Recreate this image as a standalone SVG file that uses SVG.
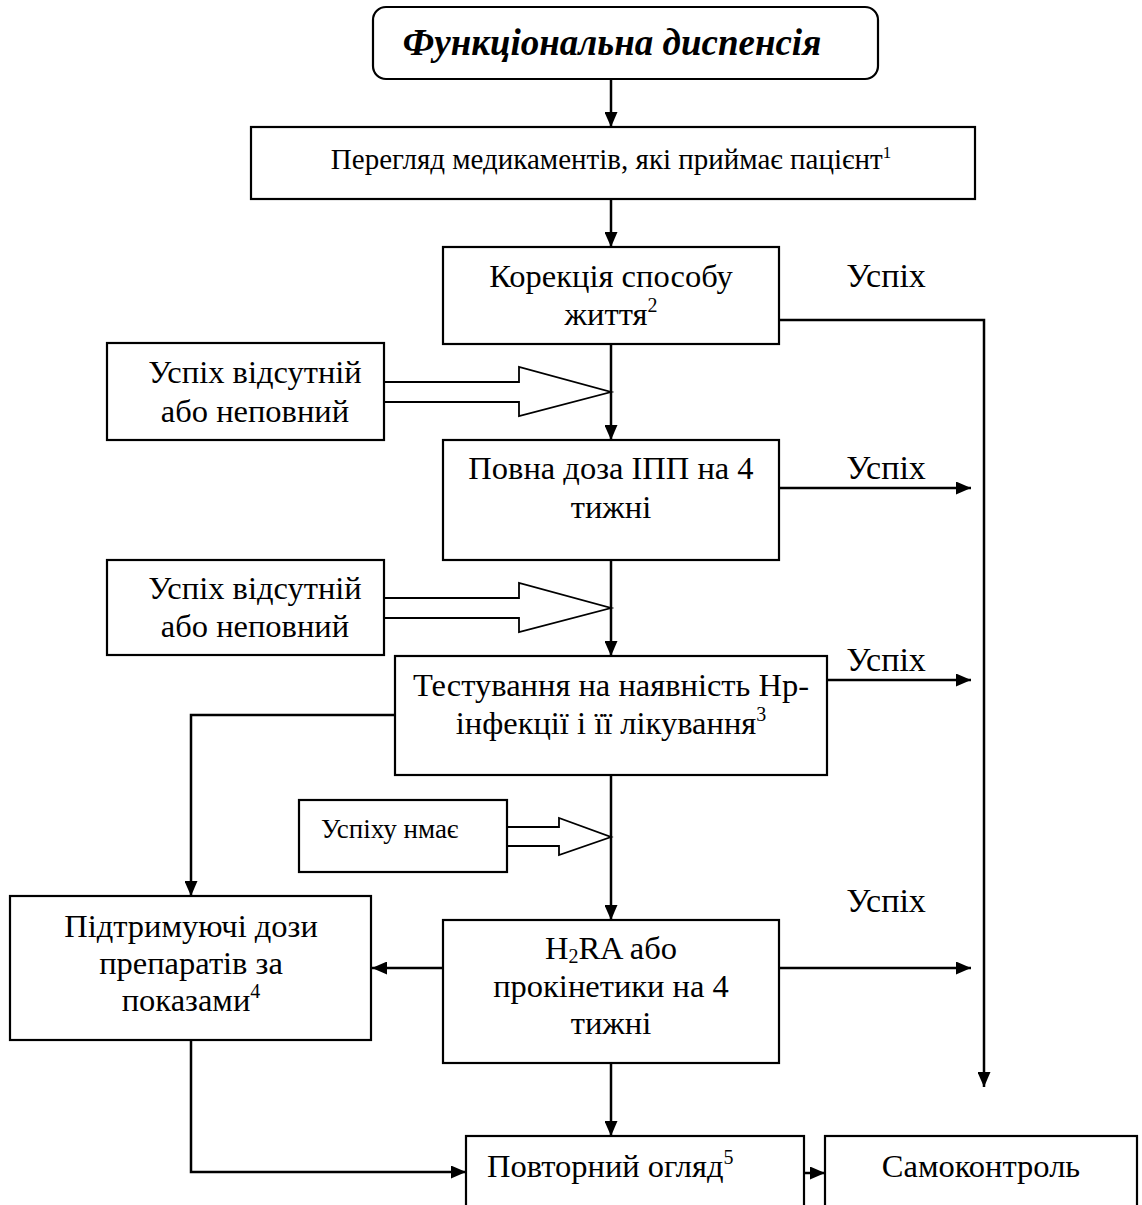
<svg xmlns="http://www.w3.org/2000/svg" width="1142" height="1205" viewBox="0 0 1142 1205">
<defs>
<marker id="ah" markerWidth="15" markerHeight="13" refX="15" refY="6.5" orient="auto" markerUnits="userSpaceOnUse">
<path d="M0,0 L15,6.5 L0,13 Z" fill="#000"/>
</marker>
<style>
.box{fill:#fff;stroke:#000;stroke-width:2.2}
.t{font-family:"Liberation Serif","Times New Roman","DejaVu Serif",serif;font-size:32.5px;fill:#000;text-anchor:middle}
.ts{font-family:"Liberation Serif","Times New Roman","DejaVu Serif",serif;font-size:32.5px;fill:#000;text-anchor:start}
.u{font-family:"Liberation Serif","Times New Roman","DejaVu Serif",serif;font-size:34px;fill:#000;text-anchor:middle}
.s{font-family:"Liberation Serif","Times New Roman","DejaVu Serif",serif;fill:#000}
.ti{font-family:"Liberation Serif","Times New Roman","DejaVu Serif",serif;font-size:37px;font-weight:bold;font-style:italic;fill:#000;text-anchor:middle}
.c{fill:none;stroke:#000;stroke-width:2.5}
.h{fill:#fff;stroke:#000;stroke-width:1.8}
</style>
</defs>
<rect width="1142" height="1205" fill="#fff"/>
<g id="connectors">
<line class="c" x1="611" y1="79" x2="611" y2="127" marker-end="url(#ah)"/>
<line class="c" x1="611" y1="199" x2="611" y2="247" marker-end="url(#ah)"/>
<line class="c" x1="611" y1="344" x2="611" y2="440" marker-end="url(#ah)"/>
<line class="c" x1="611" y1="560" x2="611" y2="656" marker-end="url(#ah)"/>
<line class="c" x1="611" y1="775" x2="611" y2="920" marker-end="url(#ah)"/>
<line class="c" x1="611" y1="1063" x2="611" y2="1136" marker-end="url(#ah)"/>
<polyline class="c" points="779,320 984,320 984,1087" marker-end="url(#ah)"/>
<line class="c" x1="779" y1="488" x2="971" y2="488" marker-end="url(#ah)"/>
<line class="c" x1="827" y1="680" x2="971" y2="680" marker-end="url(#ah)"/>
<line class="c" x1="779" y1="968" x2="971" y2="968" marker-end="url(#ah)"/>
<line class="c" x1="443" y1="968" x2="372" y2="968" marker-end="url(#ah)"/>
<polyline class="c" points="394,715 191,715 191,896" marker-end="url(#ah)"/>
<polyline class="c" points="191,1040 191,1172 466,1172" marker-end="url(#ah)"/>
<line class="c" x1="804" y1="1173" x2="825" y2="1173" marker-end="url(#ah)"/>
<polygon class="h" points="384,382 519,382 519,367 611,392 519,416 519,402 384,402"/>
<polygon class="h" points="384,598 519,598 519,583 611,608 519,632 519,618 384,618"/>
<polygon class="h" points="507,827 559,827 559,818 611,837 559,855 559,846 507,846"/>
</g>
<g id="n-title">
<rect class="box" x="373" y="7" width="505" height="72" rx="13"/>
<text class="ti" x="612" y="55">Функціональна диспенсія</text>
</g>
<g id="n-review">
<rect class="box" x="251" y="127" width="724" height="72"/>
<text class="s" x="611" y="169" font-size="29" text-anchor="middle">Перегляд медикаментів, які приймає пацієнт<tspan font-size="17" dy="-11">1</tspan></text>
</g>
<g id="n-lifestyle">
<rect class="box" x="443" y="247" width="336" height="97"/>
<text class="t" x="611" y="287">Корекція способу</text>
<text class="t" x="611" y="325">життя<tspan font-size="20" dy="-13">2</tspan></text>
</g>
<g id="n-fail1">
<rect class="box" x="107" y="343" width="277" height="97"/>
<text class="t" x="255" y="383">Успіх відсутній</text>
<text class="t" x="255" y="422">або неповний</text>
</g>
<g id="n-ppi">
<rect class="box" x="443" y="440" width="336" height="120"/>
<text class="t" x="611" y="479">Повна доза ІПП на 4</text>
<text class="t" x="611" y="518">тижні</text>
</g>
<g id="n-fail2">
<rect class="box" x="107" y="560" width="277" height="95"/>
<text class="t" x="255" y="599">Успіх відсутній</text>
<text class="t" x="255" y="637">або неповний</text>
</g>
<g id="n-hp">
<rect class="box" x="395" y="656" width="432" height="119"/>
<text class="t" x="611" y="696" font-size="33">Тестування на наявність Нр-</text>
<text class="t" x="611" y="734">інфекції і її лікування<tspan font-size="20" dy="-13">3</tspan></text>
</g>
<g id="n-fail3">
<rect class="box" x="299" y="800" width="208" height="72"/>
<text class="s" x="321" y="838" font-size="27">Успіху нмає</text>
</g>
<g id="n-maint">
<rect class="box" x="10" y="896" width="361" height="144"/>
<text class="t" x="191" y="937">Підтримуючі дози</text>
<text class="t" x="191" y="974">препаратів за</text>
<text class="t" x="191" y="1011">показами<tspan font-size="20" dy="-13">4</tspan></text>
</g>
<g id="n-h2ra">
<rect class="box" x="443" y="920" width="336" height="143"/>
<text class="t" x="611" y="959">H<tspan font-size="20" dy="4">2</tspan><tspan dy="-4">RA або</tspan></text>
<text class="t" x="611" y="997">прокінетики на 4</text>
<text class="t" x="611" y="1034">тижні</text>
</g>
<g id="n-repeat">
<rect class="box" x="466" y="1136" width="338" height="80"/>
<text class="ts" x="487" y="1177">Повторний огляд<tspan font-size="20" dy="-13">5</tspan></text>
</g>
<g id="n-self">
<rect class="box" x="825" y="1136" width="312" height="80"/>
<text class="t" x="981" y="1177">Самоконтроль</text>
</g>
<g id="labels">
<text class="u" x="886" y="287">Успіх</text>
<text class="u" x="886" y="479">Успіх</text>
<text class="u" x="886" y="671">Успіх</text>
<text class="u" x="886" y="912">Успіх</text>
</g>
</svg>
